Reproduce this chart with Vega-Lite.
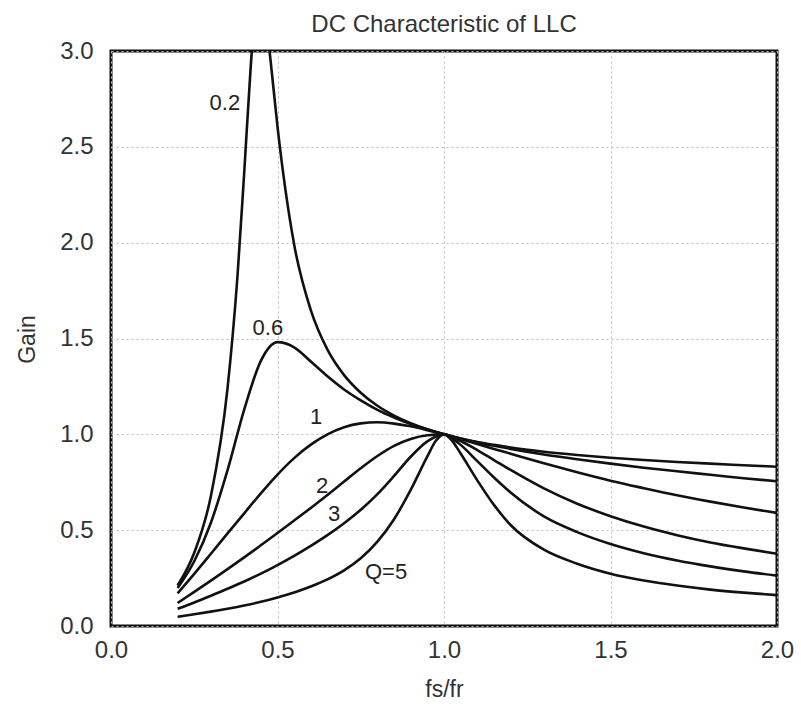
{
  "$schema": "https://vega.github.io/schema/vega-lite/v6.json",
  "autosize": {"type": "none"},
  "padding": {"left": 111, "top": 51, "right": 24, "bottom": 78},
  "width": 666,
  "height": 575,
  "background": "white",
  "title": {
    "text": "DC Characteristic of LLC",
    "fontSize": 24,
    "fontWeight": "normal",
    "font": "Liberation Sans",
    "color": "#333333",
    "anchor": "middle",
    "baseline": "alphabetic",
    "offset": 19,
    "dy": 36
  },
  "datasets": {
    "curves": [
      {"q": "0.2", "x": 0.2, "gain": 0.211},
      {"q": "0.2", "x": 0.25, "gain": 0.382},
      {"q": "0.2", "x": 0.3, "gain": 0.678},
      {"q": "0.2", "x": 0.35, "gain": 1.241},
      {"q": "0.2", "x": 0.38, "gain": 1.83},
      {"q": "0.2", "x": 0.4, "gain": 2.365},
      {"q": "0.2", "x": 0.42, "gain": 2.93},
      {"q": "0.2", "x": 0.43, "gain": 3.15},
      {"q": "0.2", "x": 0.44, "gain": 3.28},
      {"q": "0.2", "x": 0.45, "gain": 3.3},
      {"q": "0.2", "x": 0.46, "gain": 3.23},
      {"q": "0.2", "x": 0.48, "gain": 2.937},
      {"q": "0.2", "x": 0.5, "gain": 2.605},
      {"q": "0.2", "x": 0.55, "gain": 1.99},
      {"q": "0.2", "x": 0.6, "gain": 1.648},
      {"q": "0.2", "x": 0.65, "gain": 1.442},
      {"q": "0.2", "x": 0.7, "gain": 1.309},
      {"q": "0.2", "x": 0.75, "gain": 1.217},
      {"q": "0.2", "x": 0.8, "gain": 1.149},
      {"q": "0.2", "x": 0.85, "gain": 1.098},
      {"q": "0.2", "x": 0.9, "gain": 1.058},
      {"q": "0.2", "x": 0.95, "gain": 1.026},
      {"q": "0.2", "x": 1.0, "gain": 1.0},
      {"q": "0.2", "x": 1.05, "gain": 0.978},
      {"q": "0.2", "x": 1.1, "gain": 0.96},
      {"q": "0.2", "x": 1.15, "gain": 0.945},
      {"q": "0.2", "x": 1.2, "gain": 0.931},
      {"q": "0.2", "x": 1.3, "gain": 0.909},
      {"q": "0.2", "x": 1.4, "gain": 0.892},
      {"q": "0.2", "x": 1.5, "gain": 0.878},
      {"q": "0.2", "x": 1.6, "gain": 0.866},
      {"q": "0.2", "x": 1.7, "gain": 0.856},
      {"q": "0.2", "x": 1.8, "gain": 0.847},
      {"q": "0.2", "x": 1.9, "gain": 0.839},
      {"q": "0.2", "x": 2.0, "gain": 0.831},

      {"q": "0.6", "x": 0.2, "gain": 0.198},
      {"q": "0.6", "x": 0.25, "gain": 0.338},
      {"q": "0.6", "x": 0.3, "gain": 0.539},
      {"q": "0.6", "x": 0.35, "gain": 0.813},
      {"q": "0.6", "x": 0.4, "gain": 1.129},
      {"q": "0.6", "x": 0.45, "gain": 1.383},
      {"q": "0.6", "x": 0.5, "gain": 1.481},
      {"q": "0.6", "x": 0.55, "gain": 1.454},
      {"q": "0.6", "x": 0.6, "gain": 1.38},
      {"q": "0.6", "x": 0.65, "gain": 1.303},
      {"q": "0.6", "x": 0.7, "gain": 1.234},
      {"q": "0.6", "x": 0.75, "gain": 1.177},
      {"q": "0.6", "x": 0.8, "gain": 1.128},
      {"q": "0.6", "x": 0.85, "gain": 1.088},
      {"q": "0.6", "x": 0.9, "gain": 1.054},
      {"q": "0.6", "x": 0.95, "gain": 1.025},
      {"q": "0.6", "x": 1.0, "gain": 1.0},
      {"q": "0.6", "x": 1.05, "gain": 0.978},
      {"q": "0.6", "x": 1.1, "gain": 0.958},
      {"q": "0.6", "x": 1.15, "gain": 0.94},
      {"q": "0.6", "x": 1.2, "gain": 0.924},
      {"q": "0.6", "x": 1.3, "gain": 0.895},
      {"q": "0.6", "x": 1.4, "gain": 0.87},
      {"q": "0.6", "x": 1.5, "gain": 0.847},
      {"q": "0.6", "x": 1.6, "gain": 0.826},
      {"q": "0.6", "x": 1.7, "gain": 0.807},
      {"q": "0.6", "x": 1.8, "gain": 0.789},
      {"q": "0.6", "x": 1.9, "gain": 0.771},
      {"q": "0.6", "x": 2.0, "gain": 0.755},

      {"q": "1", "x": 0.2, "gain": 0.17},
      {"q": "1", "x": 0.25, "gain": 0.272},
      {"q": "1", "x": 0.3, "gain": 0.377},
      {"q": "1", "x": 0.35, "gain": 0.483},
      {"q": "1", "x": 0.4, "gain": 0.588},
      {"q": "1", "x": 0.45, "gain": 0.692},
      {"q": "1", "x": 0.5, "gain": 0.79},
      {"q": "1", "x": 0.55, "gain": 0.876},
      {"q": "1", "x": 0.6, "gain": 0.946},
      {"q": "1", "x": 0.65, "gain": 1.0},
      {"q": "1", "x": 0.7, "gain": 1.037},
      {"q": "1", "x": 0.75, "gain": 1.057},
      {"q": "1", "x": 0.8, "gain": 1.063},
      {"q": "1", "x": 0.85, "gain": 1.056},
      {"q": "1", "x": 0.9, "gain": 1.042},
      {"q": "1", "x": 0.95, "gain": 1.022},
      {"q": "1", "x": 1.0, "gain": 1.0},
      {"q": "1", "x": 1.05, "gain": 0.975},
      {"q": "1", "x": 1.1, "gain": 0.95},
      {"q": "1", "x": 1.15, "gain": 0.924},
      {"q": "1", "x": 1.2, "gain": 0.899},
      {"q": "1", "x": 1.3, "gain": 0.849},
      {"q": "1", "x": 1.4, "gain": 0.802},
      {"q": "1", "x": 1.5, "gain": 0.758},
      {"q": "1", "x": 1.6, "gain": 0.719},
      {"q": "1", "x": 1.7, "gain": 0.682},
      {"q": "1", "x": 1.8, "gain": 0.649},
      {"q": "1", "x": 1.9, "gain": 0.618},
      {"q": "1", "x": 2.0, "gain": 0.59},

      {"q": "2", "x": 0.2, "gain": 0.12},
      {"q": "2", "x": 0.25, "gain": 0.178},
      {"q": "2", "x": 0.3, "gain": 0.237},
      {"q": "2", "x": 0.35, "gain": 0.297},
      {"q": "2", "x": 0.4, "gain": 0.358},
      {"q": "2", "x": 0.45, "gain": 0.421},
      {"q": "2", "x": 0.5, "gain": 0.485},
      {"q": "2", "x": 0.55, "gain": 0.55},
      {"q": "2", "x": 0.6, "gain": 0.616},
      {"q": "2", "x": 0.65, "gain": 0.684},
      {"q": "2", "x": 0.7, "gain": 0.754},
      {"q": "2", "x": 0.75, "gain": 0.823},
      {"q": "2", "x": 0.8, "gain": 0.887},
      {"q": "2", "x": 0.85, "gain": 0.94},
      {"q": "2", "x": 0.9, "gain": 0.976},
      {"q": "2", "x": 0.95, "gain": 0.995},
      {"q": "2", "x": 1.0, "gain": 1.0},
      {"q": "2", "x": 1.05, "gain": 0.965},
      {"q": "2", "x": 1.1, "gain": 0.918},
      {"q": "2", "x": 1.15, "gain": 0.866},
      {"q": "2", "x": 1.2, "gain": 0.814},
      {"q": "2", "x": 1.3, "gain": 0.718},
      {"q": "2", "x": 1.4, "gain": 0.638},
      {"q": "2", "x": 1.5, "gain": 0.573},
      {"q": "2", "x": 1.6, "gain": 0.519},
      {"q": "2", "x": 1.7, "gain": 0.474},
      {"q": "2", "x": 1.8, "gain": 0.436},
      {"q": "2", "x": 1.9, "gain": 0.405},
      {"q": "2", "x": 2.0, "gain": 0.377},

      {"q": "3", "x": 0.2, "gain": 0.09},
      {"q": "3", "x": 0.25, "gain": 0.123},
      {"q": "3", "x": 0.3, "gain": 0.158},
      {"q": "3", "x": 0.35, "gain": 0.194},
      {"q": "3", "x": 0.4, "gain": 0.232},
      {"q": "3", "x": 0.45, "gain": 0.273},
      {"q": "3", "x": 0.5, "gain": 0.318},
      {"q": "3", "x": 0.55, "gain": 0.366},
      {"q": "3", "x": 0.6, "gain": 0.418},
      {"q": "3", "x": 0.65, "gain": 0.474},
      {"q": "3", "x": 0.7, "gain": 0.536},
      {"q": "3", "x": 0.75, "gain": 0.606},
      {"q": "3", "x": 0.8, "gain": 0.688},
      {"q": "3", "x": 0.85, "gain": 0.783},
      {"q": "3", "x": 0.9, "gain": 0.883},
      {"q": "3", "x": 0.95, "gain": 0.963},
      {"q": "3", "x": 1.0, "gain": 1.0},
      {"q": "3", "x": 1.025, "gain": 0.978},
      {"q": "3", "x": 1.05, "gain": 0.945},
      {"q": "3", "x": 1.1, "gain": 0.86},
      {"q": "3", "x": 1.15, "gain": 0.775},
      {"q": "3", "x": 1.2, "gain": 0.697},
      {"q": "3", "x": 1.3, "gain": 0.572},
      {"q": "3", "x": 1.4, "gain": 0.49},
      {"q": "3", "x": 1.5, "gain": 0.428},
      {"q": "3", "x": 1.6, "gain": 0.38},
      {"q": "3", "x": 1.7, "gain": 0.342},
      {"q": "3", "x": 1.8, "gain": 0.311},
      {"q": "3", "x": 1.9, "gain": 0.285},
      {"q": "3", "x": 2.0, "gain": 0.263},

      {"q": "5", "x": 0.2, "gain": 0.048},
      {"q": "5", "x": 0.25, "gain": 0.061},
      {"q": "5", "x": 0.3, "gain": 0.075},
      {"q": "5", "x": 0.35, "gain": 0.09},
      {"q": "5", "x": 0.4, "gain": 0.107},
      {"q": "5", "x": 0.45, "gain": 0.126},
      {"q": "5", "x": 0.5, "gain": 0.149},
      {"q": "5", "x": 0.55, "gain": 0.175},
      {"q": "5", "x": 0.6, "gain": 0.206},
      {"q": "5", "x": 0.65, "gain": 0.243},
      {"q": "5", "x": 0.7, "gain": 0.29},
      {"q": "5", "x": 0.75, "gain": 0.353},
      {"q": "5", "x": 0.8, "gain": 0.44},
      {"q": "5", "x": 0.85, "gain": 0.557},
      {"q": "5", "x": 0.9, "gain": 0.71},
      {"q": "5", "x": 0.95, "gain": 0.885},
      {"q": "5", "x": 0.975, "gain": 0.965},
      {"q": "5", "x": 1.0, "gain": 1.0},
      {"q": "5", "x": 1.025, "gain": 0.965},
      {"q": "5", "x": 1.05, "gain": 0.9},
      {"q": "5", "x": 1.1, "gain": 0.76},
      {"q": "5", "x": 1.15, "gain": 0.632},
      {"q": "5", "x": 1.2, "gain": 0.527},
      {"q": "5", "x": 1.3, "gain": 0.398},
      {"q": "5", "x": 1.4, "gain": 0.325},
      {"q": "5", "x": 1.5, "gain": 0.273},
      {"q": "5", "x": 1.6, "gain": 0.237},
      {"q": "5", "x": 1.7, "gain": 0.211},
      {"q": "5", "x": 1.8, "gain": 0.19},
      {"q": "5", "x": 1.9, "gain": 0.174},
      {"q": "5", "x": 2.0, "gain": 0.161}
    ],
    "labels": [
      {"label": "0.2", "x": 0.342, "gain": 2.727},
      {"label": "0.6", "x": 0.471, "gain": 1.556},
      {"label": "1", "x": 0.616, "gain": 1.092},
      {"label": "2", "x": 0.634, "gain": 0.733},
      {"label": "3", "x": 0.67, "gain": 0.582},
      {"label": "Q=5", "x": 0.826, "gain": 0.28}
    ]
  },
  "layer": [
    {
      "data": {"name": "curves"},
      "mark": {"type": "line", "color": "#111111", "strokeWidth": 2.6, "interpolate": "monotone", "clip": true},
      "encoding": {
        "x": {
          "field": "x",
          "type": "quantitative",
          "scale": {"domain": [0, 2], "nice": false, "zero": false},
          "axis": {
            "title": "fs/fr",
            "values": [0, 0.5, 1, 1.5, 2],
            "format": ".1f",
            "titleY": 63,
            "titleBaseline": "middle"
          }
        },
        "y": {
          "field": "gain",
          "type": "quantitative",
          "scale": {"domain": [0, 3], "nice": false},
          "axis": {
            "title": "Gain",
            "values": [0, 0.5, 1, 1.5, 2, 2.5, 3],
            "format": ".1f",
            "titleX": -84,
            "titleY": 288,
            "titleAngle": -90,
            "titleAlign": "center",
            "titleBaseline": "middle"
          }
        },
        "detail": {"field": "q", "type": "nominal"}
      }
    },
    {
      "data": {"name": "labels"},
      "mark": {"type": "text", "font": "Liberation Sans", "fontSize": 22, "color": "#222222", "align": "center", "baseline": "middle"},
      "encoding": {
        "x": {"field": "x", "type": "quantitative"},
        "y": {"field": "gain", "type": "quantitative"},
        "text": {"field": "label", "type": "nominal"}
      }
    }
  ],
  "config": {
    "font": "Liberation Sans",
    "view": {"stroke": "#111111", "strokeWidth": 3},
    "axis": {
      "domain": false,
      "ticks": false,
      "tickSize": 0,
      "grid": true,
      "gridColor": "#bdbdbd",
      "gridDash": [2, 3],
      "gridWidth": 1,
      "labelFlush": false,
      "labelOverlap": false,
      "labelFont": "Liberation Sans",
      "labelFontSize": 24,
      "labelColor": "#333333",
      "titleFont": "Liberation Sans",
      "titleFontSize": 23,
      "titleFontWeight": "normal",
      "titleColor": "#333333"
    },
    "axisX": {"labelPadding": 24, "labelBaseline": "middle"},
    "axisY": {"labelPadding": 18, "labelBaseline": "middle"}
  }
}
